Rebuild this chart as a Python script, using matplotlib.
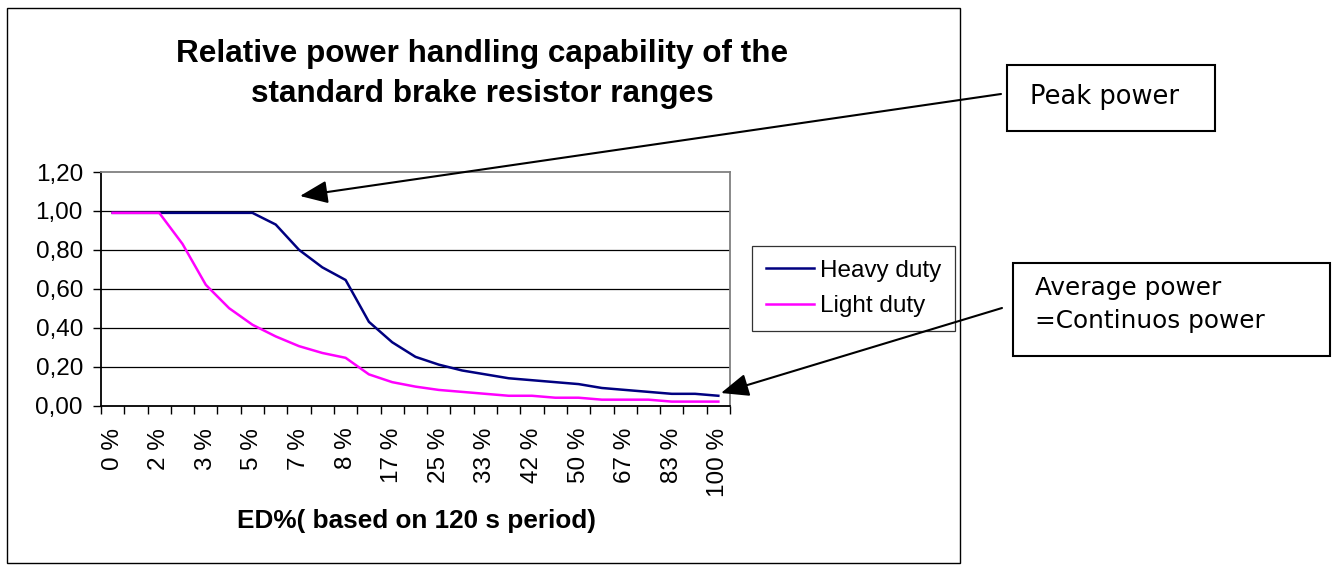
import matplotlib
matplotlib.use("Agg")
import matplotlib.pyplot as plt
from matplotlib.patches import Rectangle, FancyArrowPatch
from matplotlib.ticker import FuncFormatter, FixedLocator

# ---- data ----
categories = ["0 %", "1 %", "2 %", "3 %", "3 %", "4 %", "5 %", "6 %", "7 %", "8 %",
              "8 %", "13 %", "17 %", "21 %", "25 %", "29 %", "33 %", "38 %", "42 %",
              "46 %", "50 %", "58 %", "67 %", "75 %", "83 %", "92 %", "100 %"]
heavy_duty = [0.99, 0.99, 0.99, 0.99, 0.99, 0.99, 0.99, 0.93, 0.80, 0.71, 0.645,
              0.43, 0.325, 0.25, 0.21, 0.18, 0.16, 0.14, 0.13, 0.12, 0.11, 0.09,
              0.08, 0.07, 0.06, 0.06, 0.05]
light_duty = [0.99, 0.99, 0.99, 0.83, 0.62, 0.50, 0.415, 0.355, 0.305, 0.27, 0.245,
              0.16, 0.12, 0.097, 0.08, 0.07, 0.06, 0.05, 0.05, 0.04, 0.04, 0.03,
              0.03, 0.03, 0.02, 0.02, 0.02]
y_ticks = [0.0, 0.2, 0.4, 0.6, 0.8, 1.0, 1.2]
title = "Relative power handling capability of the\nstandard brake resistor ranges"
x_label = "ED%( based on 120 s period)"

W, H = 1333, 568
plt.rcParams['font.family'] = ['Liberation Sans', 'DejaVu Sans']
fig = plt.figure(figsize=(W / 100, H / 100), dpi=100)

def fx(px):
    return px / W

def fy(py):
    return 1 - py / H

# outer chart border
fig.add_artist(Rectangle((fx(7), fy(563)), fx(960) - fx(7), fy(8) - fy(563),
                         transform=fig.transFigure, fill=False, ec='black', lw=1.0))

left, right, top, bottom = 101, 730, 172, 405.5
ax = fig.add_axes([fx(left), fy(bottom), fx(right) - fx(left), fy(top) - fy(bottom)])

x = list(range(len(categories)))
ax.plot(x, heavy_duty, color='#000080', lw=1.8, label='Heavy duty')
ax.plot(x, light_duty, color='#FF00FF', lw=1.8, label='Light duty')

ax.set_xlim(-0.5, len(categories) - 0.5)
ax.set_ylim(0, 1.2)

ax.set_yticks(y_ticks)
ax.yaxis.set_major_formatter(FuncFormatter(lambda v, p: f"{v:.2f}".replace('.', ',')))
for yv in y_ticks[1:-1]:
    ax.axhline(yv, color='black', lw=0.9, zorder=0)

shown = list(range(0, len(categories), 2))
ax.set_xticks(shown)
ax.set_xticklabels([categories[i] for i in shown], rotation=90)
ax.xaxis.set_minor_locator(FixedLocator([i - 0.5 for i in range(len(categories) + 1)]))
ax.tick_params(axis='x', which='major', length=0, pad=16, labelsize=17.5)
ax.tick_params(axis='x', which='minor', length=6, width=1, direction='out')
ax.tick_params(axis='y', which='major', length=6, width=1, direction='out',
               labelsize=17.5, pad=7)

for s in ['top', 'right']:
    ax.spines[s].set_color('#808080')
    ax.spines[s].set_linewidth(1.3)
for s in ['left', 'bottom']:
    ax.spines[s].set_color('black')
    ax.spines[s].set_linewidth(1.3)

# title (two lines placed on their baselines) and axis label
title_lines = title.split("\n")
for line, base in zip(title_lines, [61.7, 101.7]):
    fig.text(fx(482), fy(base), line, ha='center', va='baseline', fontsize=22.7,
             fontweight='bold')
fig.text(fx(416), fy(528), x_label, ha='center', va='baseline', fontsize=18.8,
         fontweight='bold')

# legend
leg = ax.legend(loc='upper left', bbox_to_anchor=(fx(752), fy(246)),
                bbox_transform=fig.transFigure, frameon=True, fancybox=False,
                edgecolor='black', fontsize=17.5, handlelength=2.0, handletextpad=0.25,
                borderpad=0.56, labelspacing=0.55, borderaxespad=0)
leg.get_frame().set_linewidth(0.9)

# annotation boxes
box_font = ['DejaVu Sans']
fig.add_artist(Rectangle((fx(1007), fy(131)), fx(1215) - fx(1007), fy(65) - fy(131),
                         transform=fig.transFigure, fill=False, ec='black', lw=1.5))
fig.text(fx(1030), fy(97), "Peak power", ha='left', va='center', fontsize=18.5,
         family=box_font)
fig.add_artist(Rectangle((fx(1013), fy(356)), fx(1330) - fx(1013), fy(263) - fy(356),
                         transform=fig.transFigure, fill=False, ec='black', lw=1.5))
fig.text(fx(1035), fy(288), "Average power", ha='left', va='center', fontsize=17.8,
         family=box_font)
fig.text(fx(1035), fy(321), "=Continuos power", ha='left', va='center', fontsize=17.8,
         family=box_font)

# arrows
def arrow(x0, y0, x1, y1):
    a = FancyArrowPatch((fx(x0), fy(y0)), (fx(x1), fy(y1)), transform=fig.transFigure,
                        arrowstyle='-|>,head_length=0.85,head_width=0.35',
                        mutation_scale=20, color='black', lw=1.5, shrinkA=0, shrinkB=0)
    fig.add_artist(a)

arrow(1001, 94, 300, 196)
arrow(1002, 308, 721, 393)

fig.savefig("out.png", dpi=100)
